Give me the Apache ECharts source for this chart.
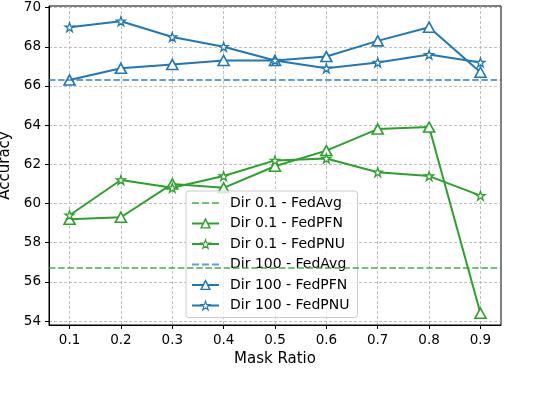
<!DOCTYPE html>
<html>
<head>
<meta charset="utf-8">
<script src="https://cdn.jsdelivr.net/npm/echarts@6/dist/echarts.min.js"></script>
<style>
  html, body { margin: 0; padding: 0; background: #fff; }
  #chart { width: 534px; height: 400px; }
</style>
</head>
<body>
<div id="chart"></div>
<script>
// mask ratios on the x axis
var maskRatio = [0.1, 0.2, 0.3, 0.4, 0.5, 0.6, 0.7, 0.8, 0.9];
var yTicks = [54, 56, 58, 60, 62, 64, 66, 68, 70];

// Dir 0.1
var dir01FedAvg = 56.7;
var dir01FedPFN = [59.2, 59.3, 61.0, 60.8, 61.9, 62.7, 63.8, 63.9, 54.4];
var dir01FedPNU = [59.4, 61.2, 60.8, 61.4, 62.2, 62.3, 61.6, 61.4, 60.4];

// Dir 100
var dir100FedAvg = 66.3;
var dir100FedPFN = [66.3, 66.9, 67.1, 67.3, 67.3, 67.5, 68.3, 69.0, 66.7];
var dir100FedPNU = [69.0, 69.3, 68.5, 68.0, 67.3, 66.9, 67.2, 67.6, 67.2];

var green = '#2ca02c', blue = '#1f77b4';
var greenLight = 'rgba(44,160,44,0.65)', blueLight = 'rgba(31,119,180,0.7)';
var star = 'path://M0,-10 L2.245,-3.09 L9.51,-3.09 L3.633,1.18 L5.88,8.09 L0,3.82 L-5.88,8.09 L-3.633,1.18 L-9.51,-3.09 L-2.245,-3.09 Z';
// three dashes, used as legend icon for the FedAvg lines
var dashIcon = 'path://M0,0h7v2h-7z M10,0h7v2h-7z M20,0h7v2h-7z';
var font = 'DejaVu Sans';

function pairs(vals) {
  return maskRatio.map(function (x, i) { return [x, vals[i]]; });
}

function avgSeries(name, value, color) {
  return {
    name: name, type: 'line', data: [], symbol: 'none',
    color: color,
    lineStyle: { color: color, width: 2, type: [6.5, 2.7] },
    markLine: {
      silent: true, symbol: ['none', 'none'], label: { show: false },
      lineStyle: { color: color, width: 2, type: [6.5, 2.7] },
      data: [{ yAxis: value }]
    }
  };
}

function lineSeries(name, vals, color, marker) {
  var isStar = marker === 'star';
  return {
    name: name, type: 'line', data: pairs(vals),
    color: color,
    symbol: isStar ? star : 'triangle',
    symbolSize: isStar ? 9 : [11, 10],
    lineStyle: { color: color, width: 2 },
    itemStyle: { color: '#fff', borderColor: color, borderWidth: isStar ? 1.3 : 1.6 },
    emphasis: { disabled: true }
  };
}

var chart = echarts.init(document.getElementById('chart'));
chart.setOption({
  animation: false,
  textStyle: { fontFamily: font },
  grid: {
    left: 49, right: 33, top: 6, bottom: 75,
    outerBoundsMode: 'none',
    show: true, borderColor: '#000', borderWidth: 1
  },
  legend: {
    orient: 'vertical', left: 186, top: 191,
    itemWidth: 27, itemHeight: 11, itemGap: 6.5,
    padding: [5, 8, 5, 5],
    backgroundColor: 'rgba(255,255,255,0.8)',
    borderColor: '#cccccc', borderWidth: 1, borderRadius: 3,
    textStyle: { fontFamily: font, fontSize: 14, lineHeight: 14, color: '#000', padding: [0, 0, 0, 6] },
    data: [
      { name: 'Dir 0.1 - FedAvg', icon: dashIcon },
      { name: 'Dir 0.1 - FedPFN', itemStyle: { borderWidth: 1.4 } },
      { name: 'Dir 0.1 - FedPNU', itemStyle: { borderWidth: 1.1 } },
      { name: 'Dir 100 - FedAvg', icon: dashIcon },
      { name: 'Dir 100 - FedPFN', itemStyle: { borderWidth: 1.4 } },
      { name: 'Dir 100 - FedPNU', itemStyle: { borderWidth: 1.1 } }
    ]
  },
  xAxis: {
    type: 'value', min: 0.06, max: 0.94,
    name: 'Mask Ratio', nameLocation: 'middle', nameGap: 27,
    nameTextStyle: { fontFamily: font, fontSize: 15, color: '#000' },
    axisLine: { lineStyle: { color: '#000', width: 1 } },
    axisTick: { show: true, length: 4, customValues: maskRatio, lineStyle: { color: '#000' } },
    axisLabel: {
      customValues: maskRatio, margin: 8, fontSize: 13.5, color: '#000', fontFamily: font,
      formatter: function (v) { return v.toFixed(1); }
    },
    splitLine: { show: true, lineStyle: { color: '#b0b0b0', width: 0.8, type: [3, 2] } }
  },
  yAxis: {
    type: 'value', min: 53.8, max: 70.08,
    name: 'Accuracy', nameLocation: 'middle', nameGap: 28,
    nameTextStyle: { fontFamily: font, fontSize: 15, color: '#000' },
    axisLine: { show: true, lineStyle: { color: '#000', width: 1 } },
    axisTick: { show: true, length: 4, customValues: yTicks, lineStyle: { color: '#000' } },
    axisLabel: { customValues: yTicks, margin: 8, fontSize: 13.5, color: '#000', fontFamily: font },
    splitLine: { show: true, lineStyle: { color: '#b0b0b0', width: 0.8, type: [3, 2] } }
  },
  series: [
    avgSeries('Dir 0.1 - FedAvg', dir01FedAvg, greenLight),
    lineSeries('Dir 0.1 - FedPFN', dir01FedPFN, green, 'triangle'),
    lineSeries('Dir 0.1 - FedPNU', dir01FedPNU, green, 'star'),
    avgSeries('Dir 100 - FedAvg', dir100FedAvg, blueLight),
    lineSeries('Dir 100 - FedPFN', dir100FedPFN, blue, 'triangle'),
    lineSeries('Dir 100 - FedPNU', dir100FedPNU, blue, 'star')
  ]
});
</script>
</body>
</html>
